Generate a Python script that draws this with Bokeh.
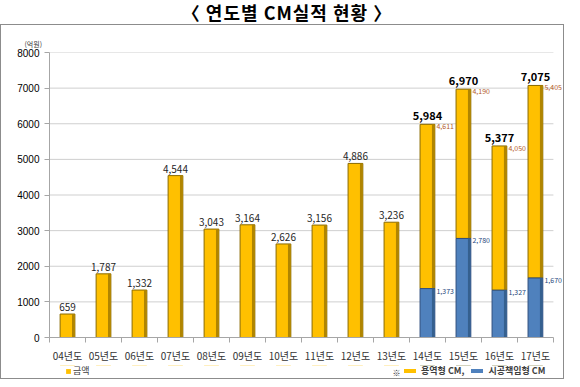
import numpy as np
from bokeh.plotting import figure
from bokeh.models import (Range1d, FixedTicker, ColumnDataSource, Legend, LegendItem, Div)
from bokeh.layouts import column
from bokeh.core.properties import value
from bokeh.embed import file_html
from bokeh.resources import INLINE

# ---- data ----
years = ["04년도", "05년도", "06년도", "07년도", "08년도", "09년도", "10년도",
         "11년도", "12년도", "13년도", "14년도", "15년도", "16년도", "17년도"]
service_cm = [659, 1787, 1332, 4544, 3043, 3164, 2626, 3156, 4886, 3236,
              4611, 4190, 4050, 5405]          # 용역형 CM / 금액
construct_cm = [0, 0, 0, 0, 0, 0, 0, 0, 0, 0,
                1373, 2780, 1327, 1670]          # 시공책임형 CM
y_ticks = [0, 1000, 2000, 3000, 4000, 5000, 6000, 7000, 8000]
title_text = "〈 연도별 CM실적 현황 〉"
unit_text = "(억원)"
legend_total = "금액"
legend_service = "용역형 CM,"
legend_construct = "시공책임형 CM"

FONT = "Noto Sans CJK KR"
ORANGE = "#FFC000"
ORANGE_EDGE = "#8A6A00"
BLUE = "#4F81BD"
BLUE_EDGE = "#2F4F7F"

x = np.arange(len(years))
x_lo, x_hi = -0.5, len(years) - 0.5
service = np.array(service_cm)
construct = np.array(construct_cm)
total = service + construct
stacked = construct > 0

W = 562
p = figure(width=W, height=340, x_range=Range1d(x_lo, x_hi + 0.28),
           y_range=Range1d(0, 8000), output_backend="svg", toolbar_location=None,
           min_border_left=48, min_border_right=0, min_border_top=27,
           min_border_bottom=20)
p.outline_line_color = None

# grid lines (limited to the category area)
p.xgrid.visible = False
p.ygrid.visible = False
p.segment(x0=x_lo, x1=x_hi, y0=y_ticks[1:], y1=y_ticks[1:], line_color="#CFCFCF", line_width=1)

# bars
src_o = ColumnDataSource(dict(x=x, bottom=construct, top=total))
p.vbar(x="x", width=0.41, bottom="bottom", top="top", source=src_o,
       fill_color=ORANGE, line_color=ORANGE_EDGE, line_width=1)
p.vbar(x=x + 0.16, width=0.07, bottom=construct, top=total,
       fill_color="#B08500", line_color=None)
src_b = ColumnDataSource(dict(x=x[stacked], top=construct[stacked]))
p.vbar(x="x", width=0.41, bottom=0, top="top", source=src_b,
       fill_color=BLUE, line_color=BLUE_EDGE, line_width=1)
p.vbar(x=x[stacked] + 0.16, width=0.07, bottom=0, top=construct[stacked],
       fill_color="#35608F", line_color=None)

# value labels
single = ~stacked
p.text(x=x[single], y=total[single], text=[f"{v:,}" for v in total[single]],
       text_align="center", text_baseline="bottom", y_offset=-3,
       text_font=value(FONT), text_font_size="10px", text_color="#262626")
p.text(x=x[stacked], y=total[stacked], text=[f"{v:,}" for v in total[stacked]],
       text_align="center", text_baseline="bottom", y_offset=-4,
       text_font=value(FONT), text_font_size="11px", text_font_style="bold",
       text_color="#000000")
p.text(x=x[stacked], y=total[stacked], text=[f"{v:,}" for v in service[stacked]],
       text_align="left", text_baseline="middle", x_offset=9, y_offset=2,
       text_font=value(FONT), text_font_size="7px", text_color="#B35A1F")
p.text(x=x[stacked], y=construct[stacked], text=[f"{v:,}" for v in construct[stacked]],
       text_align="left", text_baseline="middle", x_offset=9, y_offset=2,
       text_font=value(FONT), text_font_size="7px", text_color="#1F497D")

# axes
p.xaxis.ticker = FixedTicker(ticks=list(x), minor_ticks=[i - 0.5 for i in range(len(years) + 1)])
p.xaxis.major_label_overrides = {int(i): years[i] for i in x}
p.xaxis.bounds = (x_lo, x_hi)
p.xaxis.major_tick_out = 0
p.xaxis.major_tick_in = 0
p.xaxis.minor_tick_out = 5
p.xaxis.minor_tick_in = 0
p.xaxis.minor_tick_line_color = "#A6A6A6"
p.xaxis.axis_line_color = "#A6A6A6"
p.xaxis.major_label_text_font = FONT
p.xaxis.major_label_text_font_size = "10px"
p.xaxis.major_label_text_color = "#333333"
p.xaxis.major_label_standoff = 5

p.yaxis.ticker = FixedTicker(ticks=y_ticks)
p.yaxis.minor_tick_line_color = None
p.yaxis.major_tick_out = 5
p.yaxis.major_tick_in = 0
p.yaxis.major_tick_line_color = "#A6A6A6"
p.yaxis.axis_line_color = "#A6A6A6"
p.yaxis.major_label_text_font = "Liberation Sans"
p.yaxis.major_label_text_font_size = "10px"
p.yaxis.major_label_text_color = "#000000"
p.yaxis.major_label_standoff = 5

# unit label as the plot title (left aligned, above frame)
p.title.text = unit_text
p.title.align = "left"
p.title.offset = -25
p.title.text_font = FONT
p.title.text_font_size = "7px"
p.title.text_font_style = "normal"
p.title.text_color = "#404040"
p.title.standoff = 7

# legend strip: a small figure whose frame holds both legends.
# Its proxy bars use the same data but lie far outside its y range, so only the legend shows.
q = figure(width=W, height=13, output_backend="svg", toolbar_location=None,
           x_range=p.x_range, y_range=Range1d(-1e7, -1e7 + 1),
           x_axis_location=None, y_axis_location=None,
           min_border_left=48, min_border_right=0, min_border_top=0, min_border_bottom=0)
q.outline_line_color = None
q.xgrid.visible = False
q.ygrid.visible = False
r_o = q.vbar(x="x", width=0.41, bottom="bottom", top="top", source=src_o,
             fill_color=ORANGE, line_color=None)
r_b = q.vbar(x="x", width=0.41, bottom=0, top="top", source=src_b,
             fill_color=BLUE, line_color=None)

leg1 = Legend(items=[LegendItem(label=legend_total, renderers=[r_o])], location=(16, 1),
              glyph_width=6, glyph_height=6, label_text_font=FONT,
              label_text_font_size="9px", label_text_color="#404040",
              border_line_color=None, background_fill_alpha=0, padding=0, margin=0,
              spacing=0, label_standoff=2, label_height=11)
leg2 = Legend(items=[LegendItem(label=legend_service, renderers=[r_o]),
                     LegendItem(label=legend_construct, renderers=[r_b])],
              title="※", title_location="left", title_standoff=0,
              title_text_font=FONT, title_text_font_size="8px", title_text_color="#404040",
              title_text_font_style="normal",
              location=(342, 1), orientation="horizontal",
              glyph_width=15, glyph_height=5, label_text_font=FONT,
              label_text_font_size="9px", label_text_font_style="bold",
              label_text_color="#404040", border_line_color=None,
              background_fill_alpha=0, padding=0, margin=0, spacing=5, label_standoff=4,
              label_height=11)
q.add_layout(leg1)
q.add_layout(leg2)

title = Div(text=title_text, width=564, height=14,
            styles={"width": "564px", "text-align": "center", "font-family": FONT,
                    "font-weight": "bold", "font-size": "18px", "color": "#000",
                    "line-height": "14px", "letter-spacing": "1px"})

box = column(p, q, spacing=0, styles={"border": "1px solid #8C8C8C"})
layout = column(title, box, spacing=0)
open("out.html", "w").write(file_html(layout, INLINE))
